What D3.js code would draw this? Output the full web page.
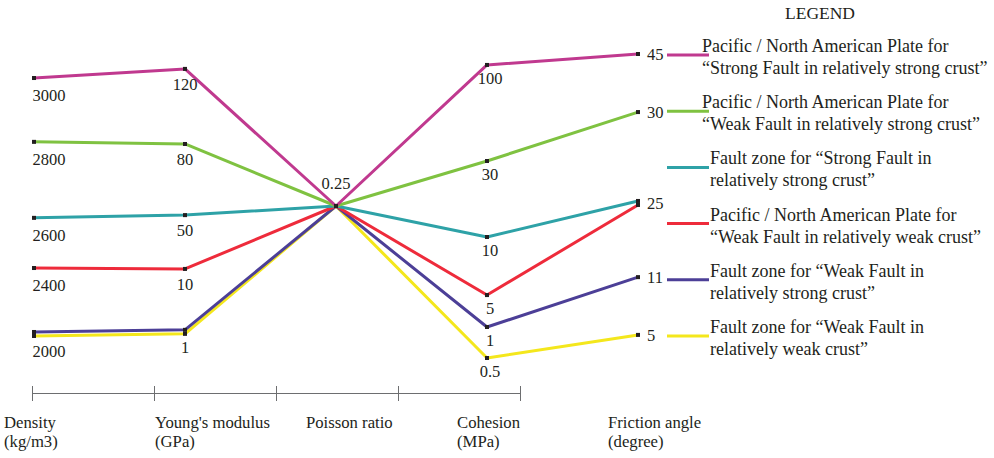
<!DOCTYPE html>
<html>
<head>
<meta charset="utf-8">
<script src="https://cdn.jsdelivr.net/npm/d3@7"></script>
<style>
  html, body { margin: 0; padding: 0; background: #fff; }
  svg { display: block; }
  text { font-family: "Liberation Serif", "Times New Roman", serif; fill: #231f20; }
</style>
</head>
<body>
<script>
// ---------------- DATA ----------------
const dimensions = ["Density", "Young's modulus", "Poisson ratio", "Cohesion", "Friction angle"];
const dimensionUnits = ["(kg/m3)", "(GPa)", "", "(MPa)", "(degree)"];

const seriesNames = [
  ["Pacific / North American Plate for", "\u201CStrong Fault in relatively strong crust\u201D"],
  ["Pacific / North American Plate for", "\u201CWeak Fault in relatively strong crust\u201D"],
  ["Fault zone for \u201CStrong Fault in", "relatively strong crust\u201D"],
  ["Pacific / North American Plate for", "\u201CWeak Fault in relatively weak crust\u201D"],
  ["Fault zone for \u201CWeak Fault in", "relatively strong crust\u201D"],
  ["Fault zone for \u201CWeak Fault in", "relatively weak crust\u201D"]
];
const seriesColors = ["#c0398f", "#7fc241", "#2ea2a7", "#ee2b3b", "#4c3f97", "#f4e71c"];

const density       = [3000, 2800, 2600, 2400, 2000, 2000];   // kg/m3
const youngsModulus = [120, 80, 50, 10, 1, 1];                 // GPa
const poissonRatio  = [0.25, 0.25, 0.25, 0.25, 0.25, 0.25];
const cohesion      = [100, 30, 10, 5, 1, 0.5];                // MPa
const frictionAngle = [45, 30, 25, 25, 11, 5];                 // degree

const valuesByDimension = [density, youngsModulus, poissonRatio, cohesion, frictionAngle];

// ------------- LAYOUT (non-linear hand-drawn axes: value -> normalized level, 0 = top) -------------
const axisLevelDomains = [
  [2000, 2400, 2600, 2800, 3000],
  [1, 10, 50, 80, 120],
  [0, 0.5],
  [0.5, 1, 5, 10, 30, 100],
  [5, 11, 25, 30, 45]
];
const axisLevelRanges = [
  [0.921, 0.704, 0.539, 0.289, 0.079],
  [0.914, 0.707, 0.530, 0.296, 0.049],
  [1, 0],
  [1.0, 0.898, 0.793, 0.602, 0.352, 0.036],
  [0.924, 0.734, 0.490, 0.191, 0.0]
];

const W = 994, H = 458;
const svg = d3.select("body").append("svg").attr("width", W).attr("height", H);

const x = d3.scalePoint().domain(dimensions).range([34, 638]);
const yNorm = d3.scaleLinear().domain([0, 1]).range([54, 358]);
const levelScales = axisLevelDomains.map((dom, i) =>
  d3.scaleLinear().domain(dom).range(axisLevelRanges[i]));
const yFor = (di, v) => yNorm(levelScales[di](v));

// dodge pairs of coincident values so both lines stay visible
function dodge(di, si) {
  const vals = valuesByDimension[di];
  const same = vals.map((v, k) => k).filter(k => vals[k] === vals[si]);
  if (same.length !== 2) return 0;
  return same.indexOf(si) === 0 ? -2 : 2;
}

const series = seriesNames.map((name, si) => ({
  name, color: seriesColors[si],
  pts: dimensions.map((d, di) => ({
    dim: d, di, v: valuesByDimension[di][si],
    x: x(d), y: yFor(di, valuesByDimension[di][si]) + dodge(di, si)
  }))
}));

// ------------- bottom axis -------------
const axisScale = d3.scalePoint().domain(dimensions).range([32, 520]);
const axisG = svg.append("g").attr("transform", "translate(0,393)")
  .call(d3.axisBottom(axisScale).tickSizeInner(8).tickSizeOuter(0).tickFormat(""));
axisG.select(".domain").attr("stroke", "#6d6e70");
axisG.selectAll(".tick line").attr("stroke", "#6d6e70").attr("y1", -7);

const dimLabels = svg.append("g").selectAll("g").data(dimensions).join("g")
  .attr("transform", d => `translate(${x(d) - 30},0)`);
dimLabels.append("text").attr("y", 428).attr("font-size", 16.7).text(d => d);
dimLabels.append("text").attr("y", 447).attr("font-size", 16.7)
  .text((d, i) => dimensionUnits[i]);

// ------------- lines -------------
const line = d3.line().x(p => p.x).y(p => p.y);
const drawOrder = series.slice().reverse();
svg.append("g").selectAll("path").data(drawOrder).join("path")
  .attr("d", s => line(s.pts))
  .attr("fill", "none")
  .attr("stroke", s => s.color)
  .attr("stroke-width", 3)
  .attr("stroke-linejoin", "round");

// markers
svg.append("g").selectAll("rect")
  .data(series.flatMap(s => s.pts))
  .join("rect")
  .attr("x", p => p.x - 2).attr("y", p => p.y - 2)
  .attr("width", 4).attr("height", 4)
  .attr("fill", "#231f20");

// ------------- value labels -------------
const labelStyle = [
  { dx: 15, dy: 23, anchor: "middle" },
  { dx: 0, dy: 21, anchor: "middle" },
  { dx: 0, dy: -17, anchor: "middle" },
  { dx: 3, dy: 19, anchor: "middle" },
  { dx: 9, dy: 6, anchor: "start" }
];
const valueLabels = [];
dimensions.forEach((d, di) => {
  Array.from(new Set(valuesByDimension[di])).forEach(v => {
    valueLabels.push({ di, v, x: x(d), y: yFor(di, v) });
  });
});
svg.append("g").selectAll("text").data(valueLabels).join("text")
  .attr("x", l => l.x + labelStyle[l.di].dx)
  .attr("y", l => l.y + labelStyle[l.di].dy)
  .attr("text-anchor", l => labelStyle[l.di].anchor)
  .attr("font-size", 16.5)
  .text(l => String(l.v));

// ------------- legend -------------
svg.append("text").attr("x", 820).attr("y", 19).attr("text-anchor", "middle")
  .attr("font-size", 17.5).text("LEGEND");
const legendY = d3.scalePoint().domain(d3.range(series.length)).range([55, 336]);
const leg = svg.append("g").selectAll("g").data(series).join("g")
  .attr("transform", (s, i) => `translate(0,${legendY(i)})`);
leg.append("line").attr("x1", 667).attr("x2", 709).attr("y1", 0).attr("y2", 0)
  .attr("stroke", s => s.color).attr("stroke-width", 3);
leg.append("text").attr("x", (s, i) => i < 2 ? 702 : 710).attr("y", -3)
  .attr("font-size", 18).text(s => s.name[0]);
leg.append("text").attr("x", (s, i) => i < 2 ? 702 : 710).attr("y", 19)
  .attr("font-size", 18).text(s => s.name[1]);
</script>
</body>
</html>
